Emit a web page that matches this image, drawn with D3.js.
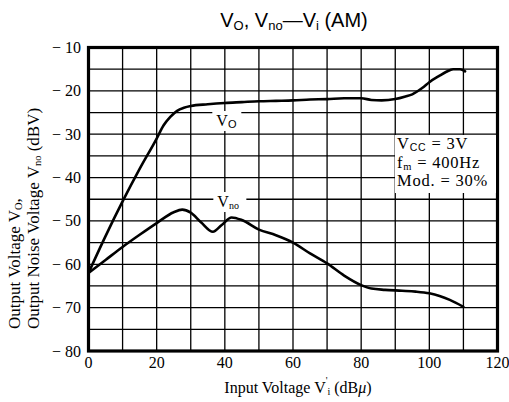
<!DOCTYPE html>
<html>
<head>
<meta charset="utf-8">
<script src="https://cdn.jsdelivr.net/npm/d3@7"></script>
<style>
  body { margin: 0; background: #fff; }
  svg { display: block; }
</style>
</head>
<body>
<svg id="chart" width="509" height="402"></svg>
<script>
// ---- data ----
const xTicks = [0, 20, 40, 60, 80, 100, 120];
const yTicks = [-10, -20, -30, -40, -50, -60, -70, -80];

const voX = [0, 5, 10, 15, 20, 22, 24, 26, 28, 30, 35, 40, 45, 50, 55, 60, 65, 70, 75, 80, 83, 86, 90, 93, 95, 98, 100, 103, 105, 107, 109, 110.5];
const voY = [-62, -53.5, -45.5, -38, -31, -28, -26, -24.6, -23.9, -23.5, -23.1, -22.8, -22.6, -22.4, -22.3, -22.2, -22.0, -21.9, -21.7, -21.7, -22.1, -22.2, -21.9, -21.3, -20.8, -19.3, -18.0, -16.5, -15.6, -15.0, -15.0, -15.5];

const vnoX = [0, 5, 10, 15, 20, 25, 27.5, 30, 33, 36.5, 39, 42, 45, 50, 55, 60, 65, 70, 75, 80, 83, 87, 92, 96, 100, 103, 106, 110];
const vnoY = [-62, -59, -56, -53.2, -50.5, -48, -47.4, -48.1, -50.3, -52.5, -51, -49.2, -49.8, -52, -53.3, -55, -57.5, -59.8, -62.6, -64.8, -65.6, -65.9, -66.1, -66.3, -66.7, -67.3, -68.2, -69.8];

const paramLines = [
  [["V", 0], ["CC", 1], [" = 3V", 0]],
  [["f", 0], ["m", 1], [" = 400Hz", 0]],
  [["Mod. = 30%", 0]]
];

// ---- layout ----
const svg = d3.select("#chart");
const x = d3.scaleLinear().domain([0, 120]).range([88.5, 497.5]);
const y = d3.scaleLinear().domain([-80, -10]).range([351, 47.5]);
const serif = "'Liberation Serif', 'Times New Roman', serif";
const sans = "'Liberation Sans', Arial, sans-serif";
const FS = 16;

// grid
const g = svg.append("g");
g.selectAll("line.v").data(d3.range(10, 120, 10)).join("line")
  .attr("x1", d => x(d)).attr("x2", d => x(d))
  .attr("y1", y(-10)).attr("y2", y(-80))
  .attr("stroke", "#000").attr("stroke-width", 1.3);
g.selectAll("line.h").data(d3.range(-75, -10, 5)).join("line")
  .attr("y1", d => y(d)).attr("y2", d => y(d))
  .attr("x1", x(0)).attr("x2", x(120))
  .attr("stroke", "#000").attr("stroke-width", 1.3);

// curves
const line = d3.line().x(d => x(d[0])).y(d => y(d[1])).curve(d3.curveMonotoneX);
const vo = voX.map((v, i) => [v, voY[i]]);
const vno = vnoX.map((v, i) => [v, vnoY[i]]);
[vo, vno].forEach(data => {
  svg.append("path").datum(data).attr("d", line)
    .attr("fill", "none").attr("stroke", "#000").attr("stroke-width", 2.6)
    .attr("stroke-linejoin", "round").attr("stroke-linecap", "round");
});

// border
svg.append("rect")
  .attr("x", x(0)).attr("y", y(-10))
  .attr("width", x(120) - x(0)).attr("height", y(-80) - y(-10))
  .attr("fill", "none").attr("stroke", "#000").attr("stroke-width", 3.2);

// y tick labels
svg.selectAll("text.yt").data(yTicks).join("text")
  .attr("x", 81).attr("y", d => y(d) + 5.5)
  .attr("text-anchor", "end")
  .attr("font-family", serif).attr("font-size", FS)
  .text(d => "\u2212 " + Math.abs(d));

// x tick labels
svg.selectAll("text.xt").data(xTicks).join("text")
  .attr("x", d => x(d)).attr("y", 368)
  .attr("text-anchor", "middle")
  .attr("font-family", serif).attr("font-size", FS)
  .text(d => d);

// curve labels with white backing
function label(px, py, main, sub, w) {
  svg.append("rect").attr("x", px - 4).attr("y", py - 15).attr("width", w).attr("height", 20).attr("fill", "#fff");
  const t = svg.append("text").attr("x", px).attr("y", py)
    .attr("font-family", serif).attr("font-size", FS);
  t.append("tspan").text(main);
  t.append("tspan").attr("font-size", sub === "O" ? 11 : 10).attr("dy", 2)
    .attr("font-family", sub === "O" ? sans : serif).text(sub);
}
label(x(37.5), 126, "V", "O", 29);
label(x(37.8), 207, "V", "no", 33);

// parameter box
svg.append("rect").attr("x", 395).attr("y", 135).attr("width", 101).attr("height", 58).attr("fill", "#fff");
paramLines.forEach((parts, i) => {
  const t = svg.append("text").attr("x", 397).attr("y", 149 + i * 18.5)
    .attr("font-family", serif).attr("font-size", 16.5).attr("letter-spacing", 0.8);
  parts.forEach(([s, isSub], j) => {
    const ts = t.append("tspan").text(s);
    if (isSub) ts.attr("font-size", 10.5).attr("dy", 2).attr("font-family", s === "CC" ? sans : serif);
    else if (j > 0) ts.attr("dy", -2);
  });
});

// title
const title = svg.append("text").attr("x", 294).attr("y", 27)
  .attr("text-anchor", "middle").attr("font-family", sans).attr("font-size", 20);
title.append("tspan").text("V");
title.append("tspan").attr("font-size", 13).attr("dy", 3).text("O");
title.append("tspan").attr("dy", -3).text(", V");
title.append("tspan").attr("font-size", 13).attr("dy", 3).text("no");
title.append("tspan").attr("dy", -3).text("\u2014V");
title.append("tspan").attr("font-size", 13).attr("dy", 3).text("i");
title.append("tspan").attr("dy", -3).text(" (AM)");

// x axis title
const xt = svg.append("text").attr("x", 298).attr("y", 393)
  .attr("text-anchor", "middle").attr("font-family", serif).attr("font-size", FS);
xt.append("tspan").text("Input Voltage V");
xt.append("tspan").attr("font-size", 10).attr("dy", -9).text("'");
xt.append("tspan").attr("font-size", 10).attr("dy", 11).text("i");
xt.append("tspan").attr("dy", -2).text(" (dB");
xt.append("tspan").attr("font-style", "italic").text("\u03bc");
xt.append("tspan").text(")");

// y axis title (two rotated lines)
function yTitle(bx, parts) {
  const t = svg.append("text")
    .attr("transform", `translate(${bx},329) rotate(-90)`)
    .attr("font-family", serif).attr("font-size", 17);
  parts.forEach(([s, isSub], j) => {
    const ts = t.append("tspan").text(s);
    if (isSub) ts.attr("font-size", 10.5).attr("dy", 2);
    else if (j > 0) ts.attr("dy", -2);
  });
}
yTitle(20, [["Output Voltage V", 0], ["O", 1], [",", 0]]);
yTitle(39, [["Output Noise Voltage V", 0], ["no", 1], [" (dBV)", 0]]);
</script>
</body>
</html>
